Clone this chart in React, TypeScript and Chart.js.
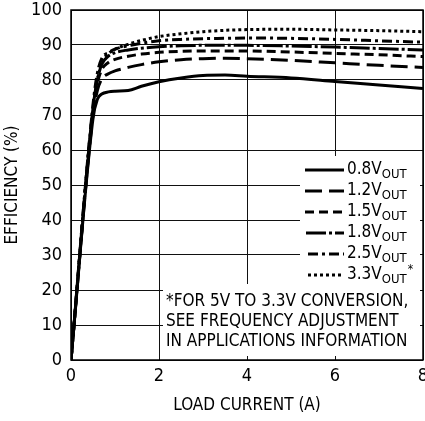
import React, { useEffect, useRef } from "react";
import { Chart, registerables } from "chart.js";

Chart.register(...registerables);

const loadCurrent = [0, 0.5, 0.6, 0.7, 0.85, 1.0, 1.3, 1.6, 2, 2.5, 3, 3.5, 4, 5, 6, 7, 8];
const eff08 = [0, 69, 74.5, 76, 76.6, 76.8, 77, 78.2, 79.5, 80.6, 81.3, 81.4, 81.1, 80.6, 79.6, 78.6, 77.6];
const eff12 = [0, 70, 77, 80.3, 81.8, 82.6, 83.6, 84.4, 85.2, 85.8, 86.1, 86.2, 86.1, 85.6, 84.9, 84.2, 83.6];
const eff15 = [0, 71, 79, 83, 85, 85.9, 86.8, 87.4, 87.9, 88.2, 88.3, 88.3, 88.3, 88, 87.6, 87.2, 86.7];
const eff18 = [0, 72, 80, 84.5, 86.8, 87.8, 88.6, 89.1, 89.5, 89.8, 89.9, 89.9, 89.9, 89.7, 89.4, 89, 88.6];
const eff25 = [0, 73, 82, 86.2, 87.8, 88.8, 89.8, 90.5, 91.2, 91.6, 91.8, 91.9, 92, 91.9, 91.6, 91.2, 90.8];
const eff33 = [0, 72, 80, 85, 87.5, 88.8, 90.2, 91.3, 92.4, 93.2, 93.8, 94.2, 94.4, 94.5, 94.3, 94.1, 93.8];

const seriesLabels = ["0.8V", "1.2V", "1.5V", "1.8V", "2.5V", "3.3V"];
const seriesSub = "OUT";
const seriesNote = ["", "", "", "", "", "*"];
const seriesValues = [eff08, eff12, eff15, eff18, eff25, eff33];
const seriesDashes: number[][] = [[], [17, 7], [9, 5], [20, 3, 3, 3], [10, 4, 3, 4], [3, 3]];

const noteLines = [
  "*FOR 5V TO 3.3V CONVERSION,",
  "SEE FREQUENCY ADJUSTMENT",
  "IN APPLICATIONS INFORMATION",
];
const xTitle = "LOAD CURRENT (A)";
const yTitle = "EFFICIENCY (%)";

const FONT = '"Liberation Sans Narrow", "Arial Narrow", "DejaVu Sans Condensed", sans-serif';

const overlayPlugin = {
  id: "overlay",
  beforeDatasetsDraw(chart: any) {
    const { ctx, scales } = chart;
    const xs = scales.x;
    const ys = scales.y;
    ctx.save();
    ctx.fillStyle = "#fff";
    const lgLeft = 300;
    const lgTop = 156;
    ctx.fillRect(lgLeft, lgTop, xs.right - 3 - lgLeft, 284 - lgTop);
    ctx.fillRect(163, 284, xs.right - 3 - 163, ys.bottom - 4 - 284);

    ctx.fillStyle = "#000";
    ctx.strokeStyle = "#000";
    ctx.textBaseline = "middle";
    const rowY0 = 170;
    const rowStep = 21;
    seriesLabels.forEach((lab, i) => {
      const y = rowY0 + i * rowStep;
      ctx.beginPath();
      ctx.lineWidth = 3;
      ctx.setLineDash(seriesDashes[i]);
      ctx.moveTo(i === 3 ? 306 : i >= 4 ? 308 : 305, y);
      ctx.lineTo(344, y);
      ctx.stroke();
      ctx.setLineDash([]);
      ctx.textAlign = "left";
      ctx.font = `17px ${FONT}`;
      const tx = 347;
      ctx.fillText(lab, tx, y);
      const w = ctx.measureText(lab).width;
      ctx.font = `13px ${FONT}`;
      ctx.fillText(seriesSub, tx + w, y + 5);
      const w2 = ctx.measureText(seriesSub).width;
      if (seriesNote[i]) {
        ctx.font = `12px ${FONT}`;
        ctx.fillText(seriesNote[i], tx + w + w2 + 1, y - 5);
      }
    });

    ctx.font = `17px ${FONT}`;
    ctx.textAlign = "left";
    noteLines.forEach((t, i) => {
      ctx.fillText(t, 166, 302 + i * 20);
    });
    ctx.restore();
  },
  afterDraw(chart: any) {
    const { ctx, chartArea } = chart;
    ctx.save();
    ctx.strokeStyle = "#000";
    ctx.lineWidth = 1.5;
    ctx.strokeRect(chartArea.left, chartArea.top, chartArea.right - chartArea.left, chartArea.bottom - chartArea.top);
    ctx.restore();
  },
};

export default function App() {
  const ref = useRef<HTMLCanvasElement | null>(null);
  useEffect(() => {
    if (!ref.current) return;
    const datasets = seriesLabels.map((lab, i) => ({
      label: lab,
      data: loadCurrent.map((x, j) => ({ x, y: seriesValues[i][j] })),
      borderColor: "#000",
      borderWidth: 3,
      borderDash: seriesDashes[i],
      pointRadius: 0,
      fill: false,
      cubicInterpolationMode: "monotone" as const,
    }));
    const chart = new Chart(ref.current, {
      type: "line",
      data: { datasets },
      options: {
        animation: false,
        responsive: false,
        maintainAspectRatio: false,
        layout: { padding: { top: 10, right: 2, left: 0, bottom: 0 } },
        plugins: {
          legend: { display: false },
          tooltip: { enabled: false },
        },
        scales: {
          x: {
            type: "linear",
            min: 0,
            max: 8,
            ticks: {
              stepSize: 2,
              color: "#000",
              padding: 6,
              font: { family: FONT, size: 18 },
              maxRotation: 0,
            },
            grid: { color: "#111", lineWidth: 1, drawTicks: false },
            border: { display: false },
            title: {
              display: true,
              text: xTitle,
              color: "#000",
              font: { family: FONT, size: 17 },
              padding: { top: 0, bottom: 5 },
            },
            afterFit(scale: any) {
              scale.height = 61;
              scale.paddingLeft = 0;
              scale.paddingRight = 0;
            },
          },
          y: {
            min: 0,
            max: 100,
            ticks: {
              stepSize: 10,
              color: "#000",
              padding: 9,
              font: { family: FONT, size: 18 },
            },
            grid: { color: "#111", lineWidth: 1, drawTicks: false },
            border: { display: false },
            title: {
              display: true,
              text: yTitle,
              color: "#000",
              font: { family: FONT, size: 17 },
              padding: { top: 2, bottom: 0 },
            },
            afterFit(scale: any) {
              scale.width = 71;
              scale.paddingTop = 0;
              scale.paddingBottom = 0;
            },
          },
        },
      },
      plugins: [overlayPlugin],
    });
    return () => chart.destroy();
  }, []);
  return (
    <div style={{ position: "fixed", left: 0, top: 0, width: 425, height: 421, background: "#fff" }}>
      <canvas ref={ref} width={425} height={421} style={{ width: 425, height: 421 }} />
    </div>
  );
}
